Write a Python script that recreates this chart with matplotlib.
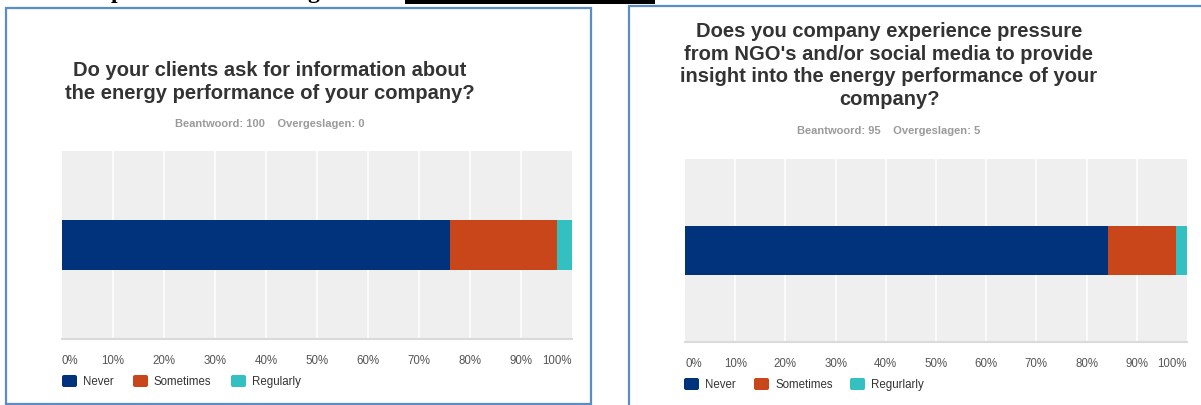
import numpy as np
import matplotlib.pyplot as plt
from matplotlib.patches import Rectangle, FancyBboxPatch
from matplotlib.transforms import IdentityTransform

# Ukuran gambar (piksel)
W, H = 1201, 406

# Data
categories_left = ['Never', 'Sometimes', 'Regularly']
categories_right = ['Never', 'Sometimes', 'Regurlarly']
left_values = [76, 21, 3]
right_values = [84.2, 13.7, 2.1]
ticks = list(range(0, 101, 10))
tick_labels = [f'{t}%' for t in ticks]

left_title = 'Do your clients ask for information about\nthe energy performance of your company?'
left_sub = 'Beantwoord: 100    Overgeslagen: 0'
right_title = ("Does you company experience pressure\nfrom NGO's and/or social media to provide\n"
               "insight into the energy performance of your\ncompany?")
right_sub = 'Beantwoord: 95    Overgeslagen: 5'

colors = ['#00337c', '#c8461a', '#34bfc1']

plt.rcParams['font.family'] = ['Liberation Sans', 'DejaVu Sans']

fig = plt.figure(figsize=(W / 100, H / 100), dpi=100)


def fx(x):
    return x / W


def fy(y):
    return 1 - y / H


def box(x0, y0, x1, y1):
    # kotak piksel (dari kiri-atas) -> koordinat figure
    return [fx(x0), fy(y1), (x1 - x0) / W, (y1 - y0) / H]


# Bingkai panel
for (x0, y0, x1, y1) in [(6, 9, 591, 405), (629, 7, 1230, 430)]:
    fig.add_artist(Rectangle((fx(x0), fy(y1)), (x1 - x0) / W, (y1 - y0) / H,
                             transform=fig.transFigure, fill=False,
                             edgecolor='#5b8bc9', lw=1.6))

# Potongan judul dokumen di atas (terpotong di tepi gambar)
fig.add_artist(Rectangle((fx(405), fy(5)), (655 - 405) / W, 5 / H,
                         transform=fig.transFigure, color='black', lw=0))
for ch, x in [('p', 111), ('g', 307)]:
    fig.text(fx(x), fy(-1.5), ch, fontsize=17, fontweight='bold',
             family='Liberation Serif', va='baseline', ha='left')


def draw_chart(plot_px, title, title_x, title_y, sub, sub_y, values, labels,
               legend_y, legend_x):
    ax = fig.add_axes(box(*plot_px))
    left = 0
    for v, c in zip(values, colors):
        ax.barh(0, v, left=left, height=0.54, color=c, zorder=3)
        left += v
    ax.set_xlim(0, 100)
    ax.set_ylim(-1, 1)
    ax.set_facecolor('#efefef')
    for t in ticks[1:-1]:
        ax.axvline(t, color='white', lw=1.1, zorder=1)
    for s in ['top', 'left', 'right']:
        ax.spines[s].set_visible(False)
    ax.spines['bottom'].set_color('#dadada')
    ax.spines['bottom'].set_linewidth(1.5)
    ax.set_yticks([])
    ax.set_xticks(ticks)
    tl = ax.set_xticklabels(tick_labels, fontsize=8.3, color='#555555')
    tl[0].set_ha('left')
    tl[-1].set_ha('right')
    ax.tick_params(axis='x', length=0, pad=10.5)

    fig.text(fx(title_x), fy(title_y), title, ha='center', va='top',
             fontsize=14.5, fontweight='bold', color='#333333', linespacing=1.24)
    fig.text(fx(title_x), fy(sub_y), sub, ha='center', va='center',
             fontsize=8, fontweight='bold', color='#9a9a9a')

    for lab, c, x in zip(labels, colors, legend_x):
        fig.add_artist(FancyBboxPatch((x + 1, H - legend_y - 5), 13, 10,
                                      boxstyle='round,pad=1,rounding_size=2',
                                      transform=IdentityTransform(),
                                      facecolor=c, edgecolor='none'))
        fig.text(fx(x + 21), fy(legend_y), lab, ha='left', va='center',
                 fontsize=8.3, color='#333333')


draw_chart((62, 152, 572, 340), left_title, 270, 61, left_sub, 124,
           left_values, categories_left, 382, [62, 133, 231])
draw_chart((685, 160, 1187, 343), right_title, 889, 22, right_sub, 131,
           right_values, categories_right, 385, [684, 754, 850])

fig.savefig('out.png', dpi=100)
